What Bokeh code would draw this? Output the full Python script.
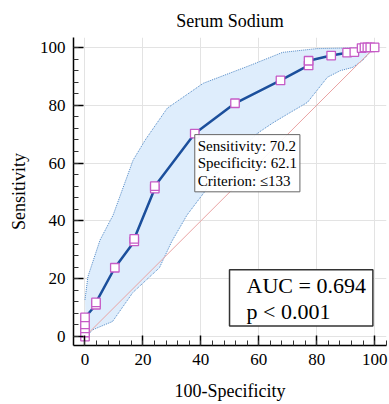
from bokeh.plotting import figure
from bokeh.models import Label, SingleIntervalTicker
from bokeh.embed import file_html
from bokeh.resources import INLINE

# ROC curve points (100-Specificity, Sensitivity)
fpr = [0, 0, 0, 0, 0, 3.8, 3.8, 10.3, 17.0, 17.0, 24.1, 24.1, 37.9, 51.8, 67.5,
       77.2, 77.2, 85.0, 90.5, 93.0, 95.5, 96.5, 97.5, 98.5, 100]
sens = [0, 1.4, 2.8, 4.2, 6.6, 11.0, 11.8, 23.8, 32.9, 33.8, 51.2, 52.0, 70.2, 80.7, 88.6,
        93.8, 95.4, 97.2, 98.2, 98.4, 99.8, 100, 100, 100, 100]

# 95% confidence band
upper_x = [0, 1, 5.2, 9.7, 16.6, 20.8, 28.4, 40.8, 57, 68.2, 80, 100]
upper_y = [12.7, 20.7, 33.4, 42, 61, 68, 79, 87.6, 93.8, 98.3, 99.6, 100]
lower_x = [0.3, 2.8, 9.5, 16.5, 25.7, 29.9, 35.2, 42.3, 45, 50, 53.6, 59.5, 65, 70,
           76.8, 83.7, 88.2, 92.4, 95.8, 98, 100]
lower_y = [0, 2.4, 5.2, 15.2, 23.8, 32.8, 42, 51.4, 56, 60.5, 64.5, 70.3, 74, 77,
           81, 89.7, 92, 93.1, 95.5, 97.9, 100]

diag = [0, 100]

crit_idx = 12
crit_text = "Sensitivity: 70.2\nSpecificity: 62.1\nCriterion: \u2264133"
auc_text = "AUC = 0.694\np < 0.001"
auc_pos = (49.9, 23.1)

FONT = "Liberation Serif"

p = figure(width=388, height=403, x_range=(-3.97, 104.1), y_range=(-3.1, 103.45),
           output_backend="svg", toolbar_location=None,
           min_border_left=73, min_border_right=2, min_border_top=37, min_border_bottom=57,
           title="Serum Sodium")
p.outline_line_color = None
p.title.align = "center"
p.title.text_font = FONT
p.title.text_font_size = "18px"
p.title.text_font_style = "normal"
p.title.text_color = "black"
p.title.standoff = 14

# confidence band
band_x = upper_x + lower_x[::-1]
band_y = upper_y + lower_y[::-1]
p.patch(band_x, band_y, fill_color="#deedfc", line_color=None)
p.line(upper_x, upper_y, line_color="#4f88c6", line_width=1, line_dash="1 1")
p.line(lower_x, lower_y, line_color="#4f88c6", line_width=1, line_dash="1 1")

# diagonal
p.line(diag, diag, line_color="#eaa3a3", line_width=1)

# ROC curve
p.line(fpr, sens, line_color="#1b4f9c", line_width=2.5)
p.scatter(fpr, sens, marker="square", size=8.5, fill_color="white",
          line_color="#c65bc6", line_width=1.3)

for ax in (p.xaxis[0], p.yaxis[0]):
    ax.ticker = SingleIntervalTicker(interval=20, num_minor_ticks=5)
    ax.axis_line_width = 1.5
    ax.axis_line_color = "black"
    ax.major_tick_in = 10
    ax.major_tick_out = 0
    ax.minor_tick_in = 5
    ax.minor_tick_out = 0
    ax.major_tick_line_width = 1.5
    ax.major_tick_line_color = "black"
    ax.minor_tick_line_color = "#333333"
    ax.major_label_text_font = FONT
    ax.major_label_text_font_size = "17px"
    ax.major_label_text_color = "black"
    ax.axis_label_text_font = FONT
    ax.axis_label_text_font_size = "18px"
    ax.axis_label_text_font_style = "normal"
    ax.axis_label_text_color = "black"
    ax.major_label_standoff = 8

p.xaxis.axis_label = "100-Specificity"
p.yaxis.axis_label = "Sensitivity"
p.xaxis.axis_label_standoff = 13
p.yaxis.axis_label_standoff = 8

for g in (p.xgrid[0], p.ygrid[0]):
    g.ticker = SingleIntervalTicker(interval=20)
    g.grid_line_color = "#e3e3e3"
    g.grid_line_width = 1

crit = Label(x=fpr[crit_idx], y=sens[crit_idx], text=crit_text,
             text_font=FONT, text_font_size="15px", text_line_height=1.1,
             text_align="left", text_baseline="top", text_color="black",
             background_fill_color="white", background_fill_alpha=0.9,
             border_line_color="#666666", border_line_width=1, padding=3,
             x_offset=0, y_offset=-1)
p.add_layout(crit)

auc = Label(x=auc_pos[0], y=auc_pos[1], text=auc_text,
            text_font=FONT, text_font_size="22px", text_line_height=1.05,
            text_align="left", text_baseline="top", text_color="black",
            background_fill_color="white",
            border_line_color="#333333", border_line_width=1.5,
            padding=dict(left=17, right=7, top=3, bottom=2))
p.add_layout(auc)

open("out.html", "w").write(file_html(p, INLINE))
